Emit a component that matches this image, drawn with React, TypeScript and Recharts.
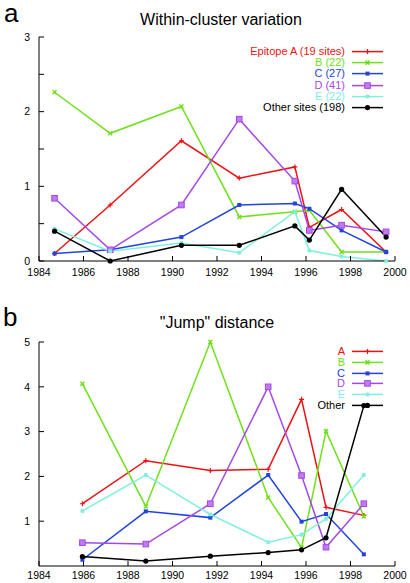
import React from "react";
import { LineChart, Line, XAxis, YAxis, Legend } from "recharts";

// panel a: within-cluster variation
const variationYears = [1984.7, 1987.2, 1990.4, 1993.0, 1995.5, 1996.15, 1997.6, 1999.6];
const variationA = [0.1, 0.75, 1.61, 1.11, 1.26, 0.45, 0.69, 0.12];
const variationB = [2.26, 1.71, 2.07, 0.59, 0.66, 0.68, 0.12, 0.12];
const variationC = [0.1, 0.15, 0.32, 0.75, 0.77, 0.7, 0.41, 0.12];
const variationD = [0.84, 0.15, 0.75, 1.9, 1.07, 0.41, 0.48, 0.39];
const variationE = [0.43, 0.13, 0.24, 0.11, 0.66, 0.14, 0.06, 0.0];
const variationOther = [0.4, 0.0, 0.21, 0.21, 0.47, 0.28, 0.96, 0.32];
const variationLabels = ["Epitope A (19 sites)", "B (22)", "C (27)", "D (41)", "E (22)", "Other sites (198)"];

// panel b: "jump" distance
const jumpYears = [1985.95, 1988.8, 1991.7, 1994.3, 1995.8, 1996.9, 1998.6];
const jumpA = [1.39, 2.35, 2.13, 2.16, 3.72, 1.31, 1.13];
const jumpB = [4.07, 1.33, 5.0, 1.53, 0.41, 3.01, 1.11];
const jumpC = [0.14, 1.22, 1.08, 2.03, 0.99, 1.16, 0.26];
const jumpD = [0.52, 0.49, 1.39, 4.0, 2.02, 0.42, 1.39];
const jumpE = [1.23, 2.03, 1.15, 0.53, 0.7, 1.05, 2.03];
const jumpOther = [0.21, 0.11, 0.22, 0.3, 0.36, 0.63, 3.58];
const jumpLabels = ["A", "B", "C", "D", "E", "Other"];

const yearTicks = [1984, 1986, 1988, 1990, 1992, 1994, 1996, 1998, 2000];
const variationTicks = [0, 0.5, 1, 1.5, 2, 2.5, 3];
const jumpTicks = [1, 2, 3, 4, 5];

const keys = ["A", "B", "C", "D", "E", "Other"];
const colors = ["#ee1111", "#6fe01a", "#2244dd", "#a347e6", "#7ff0df", "#000000"];
const markers = ["plus", "x", "sq", "bigsq", "star", "dot"];

const FONT = '"Liberation Sans", Arial, sans-serif';

const variationData = variationYears.map((year, i) => ({
  year,
  A: variationA[i],
  B: variationB[i],
  C: variationC[i],
  D: variationD[i],
  E: variationE[i],
  Other: variationOther[i],
}));

const jumpData = jumpYears.map((year, i) => ({
  year,
  A: jumpA[i],
  B: jumpB[i],
  C: jumpC[i],
  D: jumpD[i],
  E: jumpE[i],
  Other: jumpOther[i],
}));

const drawMarker = (kind: string, color: string, cx: number, cy: number, key?: string) => {
  switch (kind) {
    case "plus":
      return <path key={key} d={`M${cx - 2.5},${cy}h5M${cx},${cy - 2.5}v5`} stroke={color} strokeWidth={1.2} />;
    case "x":
      return (
        <path
          key={key}
          d={`M${cx - 2},${cy - 2}l4,4M${cx - 2},${cy + 2}l4,-4`}
          stroke={color}
          strokeWidth={1.5}
        />
      );
    case "sq":
      return <rect key={key} x={cx - 2} y={cy - 2} width={4} height={4} fill={color} />;
    case "bigsq":
      return (
        <rect key={key} x={cx - 2.8} y={cy - 2.8} width={5.6} height={5.6} fill="#c27af0" stroke={color} strokeWidth={1} />
      );
    case "star":
      return (
        <path
          key={key}
          d={`M${cx - 2},${cy}h4M${cx},${cy - 2}v4M${cx - 1.6},${cy - 1.6}l3.2,3.2M${cx - 1.6},${cy + 1.6}l3.2,-3.2`}
          stroke={color}
          strokeWidth={1.2}
        />
      );
    default:
      return <circle key={key} cx={cx} cy={cy} r={2.6} fill={color} />;
  }
};

const makeDot = (kind: string, color: string, id: string) => (props: any) => {
  const { cx, cy, index } = props;
  if (cx == null || cy == null) return <g key={`${id}-${index}`} />;
  return drawMarker(kind, color, cx, cy, `${id}-${index}`);
};

const LegendBox = ({ labels, rowHeight, top }: { labels: string[]; rowHeight: number; top: number }) => (
  <div style={{ fontFamily: FONT, fontSize: 11, width: 383, paddingTop: top }}>
    {labels.map((label, i) => (
      <div
        key={label}
        style={{ display: "flex", justifyContent: "flex-end", alignItems: "center", height: rowHeight }}
      >
        <span style={{ color: colors[i], marginRight: 7, lineHeight: `${rowHeight}px` }}>{label}</span>
        <svg width={31} height={rowHeight} style={{ display: "block" }}>
          <line x1={0} x2={31} y1={rowHeight / 2} y2={rowHeight / 2} stroke={colors[i]} strokeWidth={1.5} />
          {drawMarker(markers[i], colors[i], 15.5, rowHeight / 2)}
        </svg>
      </div>
    ))}
  </div>
);

const tickStyle = { fontSize: 10.5, fill: "#000", fontFamily: FONT };

type PanelProps = {
  data: any[];
  id: string;
  height: number;
  marginTop: number;
  xAxisHeight: number;
  xTickMargin: number;
  yDomain: number[];
  yTicks: number[];
  labels: string[];
  legendTop: number;
  legendRow: number;
};

const Panel = (p: PanelProps) => (
  <LineChart width={410} height={p.height} data={p.data} margin={{ top: p.marginTop, right: 15, left: 8, bottom: 0 }}>
    <XAxis
      dataKey="year"
      type="number"
      domain={[1984, 2000]}
      ticks={yearTicks}
      stroke="#000"
      tickSize={-5}
      tickMargin={p.xTickMargin}
      height={p.xAxisHeight}
      tick={tickStyle}
      interval={0}
    />
    <XAxis
      xAxisId="top"
      orientation="top"
      dataKey="year"
      type="number"
      domain={[1984, 2000]}
      ticks={yearTicks}
      stroke="#000"
      tickSize={-5}
      height={0}
      tickFormatter={() => ""}
      interval={0}
    />
    <YAxis
      type="number"
      domain={p.yDomain}
      ticks={p.yTicks}
      stroke="#000"
      width={31}
      tickSize={-5}
      tickMargin={14}
      tick={tickStyle}
      interval={0}
      tickFormatter={(v: number) => (Number.isInteger(v) ? String(v) : "")}
    />
    <YAxis
      yAxisId="right"
      orientation="right"
      type="number"
      domain={p.yDomain}
      ticks={p.yTicks}
      stroke="#000"
      width={0}
      tickSize={-5}
      tickFormatter={() => ""}
      interval={0}
    />
    <Legend
      layout="horizontal"
      align="center"
      verticalAlign="middle"
      wrapperStyle={{ left: 0, top: 0, width: 383 }}
      content={() => <LegendBox labels={p.labels} rowHeight={p.legendRow} top={p.legendTop} />}
    />
    {keys.map((k, i) => (
      <Line
        key={k}
        dataKey={k}
        name={p.labels[i]}
        stroke={colors[i]}
        strokeWidth={1.5}
        isAnimationActive={false}
        dot={makeDot(markers[i], colors[i], `${p.id}-${k}`)}
        activeDot={false}
      />
    ))}
  </LineChart>
);

export default function App() {
  return (
    <div style={{ position: "absolute", left: 0, top: 0, width: 410, height: 583, background: "#fff", fontFamily: FONT }}>
      <div style={{ position: "absolute", left: 0, top: 0 }}>
        <Panel
          data={variationData}
          id="var"
          height={290}
          marginTop={37}
          xAxisHeight={29}
          xTickMargin={13}
          yDomain={[0, 3]}
          yTicks={variationTicks}
          labels={variationLabels}
          legendTop={46}
          legendRow={11.2}
        />
      </div>
      <div style={{ position: "absolute", left: 0, top: 290 }}>
        <Panel
          data={jumpData}
          id="jump"
          height={293}
          marginTop={52}
          xAxisHeight={17}
          xTickMargin={11}
          yDomain={[0, 5]}
          yTicks={jumpTicks}
          labels={jumpLabels}
          legendTop={56}
          legendRow={10.8}
        />
      </div>
      <div style={{ position: "absolute", left: 4, top: 0, fontSize: 26, lineHeight: "26px" }}>a</div>
      <div style={{ position: "absolute", left: 3, top: 304, fontSize: 26, lineHeight: "26px" }}>b</div>
      <div
        style={{ position: "absolute", left: 0, width: 442, top: 11, fontSize: 16, lineHeight: "18px", textAlign: "center" }}
      >
        Within-cluster variation
      </div>
      <div
        style={{ position: "absolute", left: 0, width: 434, top: 314, fontSize: 16, lineHeight: "18px", textAlign: "center" }}
      >
        "Jump" distance
      </div>
    </div>
  );
}
